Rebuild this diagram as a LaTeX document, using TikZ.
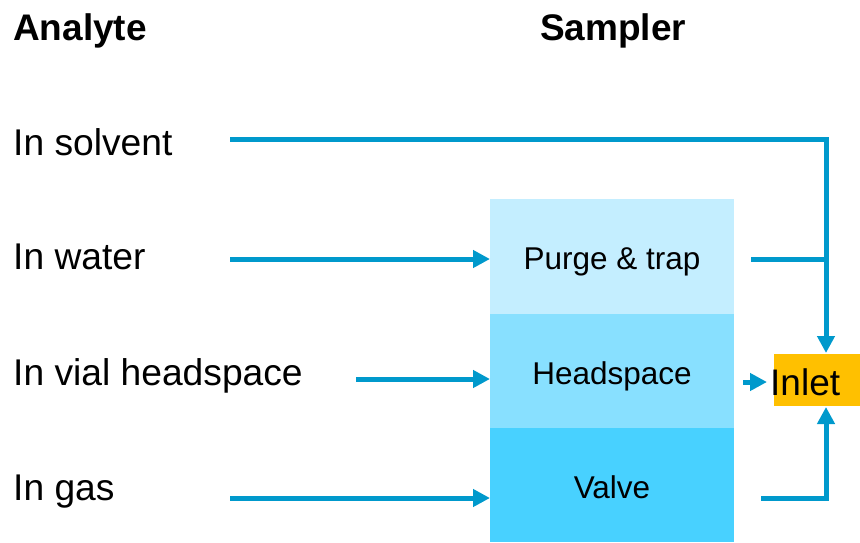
\documentclass[tikz,border=0pt]{standalone}
\usepackage{fontspec}
\setmainfont{Liberation Sans}
\usetikzlibrary{arrows.meta}
\definecolor{flowblue}{HTML}{0099CC}
\definecolor{boxA}{HTML}{C4EEFF}
\definecolor{boxB}{HTML}{88E0FF}
\definecolor{boxC}{HTML}{48D1FF}
\definecolor{inletfill}{HTML}{FFC000}
\tikzset{
  header/.style={anchor=base west, inner sep=0pt, font=\fontsize{37}{40}\selectfont\bfseries},
  label/.style={anchor=base west, inner sep=0pt, font=\fontsize{37.2}{40}\selectfont},
  stage/.style={minimum width=244pt, minimum height=115pt, inner sep=0pt, anchor=north west},
  stagetext/.style={anchor=base, inner sep=0pt, font=\fontsize{31.5}{34}\selectfont},
  flow/.style={draw=flowblue, line width=5pt, -{Triangle[length=17pt,width=17pt]}},
  plain/.style={draw=flowblue, line width=5pt},
}
\begin{document}
\begin{tikzpicture}[x=1pt,y=-1pt]
\useasboundingbox (0,0) rectangle (860,542);

% column headers
\node[header] (hanalyte) at (13,40) {Analyte};
\node[header] (hsampler) at (540,40) {Sampler};

% analyte sources
\node[label] (solvent) at (13,155) {In solvent};
\node[label] (water) at (13,269) {In water};
\node[label] (vial) at (13,385) {In vial headspace};
\node[label] (gas) at (13,500) {In gas};

% sampler stages
\node[stage, fill=boxA] (purge) at (490,199) {};
\node[stage, fill=boxB] (head) at (490,314) {};
\node[stage, fill=boxC, minimum height=114pt] (valve) at (490,428) {};
\node[stagetext] (tpurge) at (612,269) {Purge \& trap};
\node[stagetext] (thead) at (612,384) {Headspace};
\node[stagetext] (tvalve) at (612,498) {Valve};

% inlet
\node[fill=inletfill, minimum width=86pt, minimum height=52pt, inner sep=0pt, anchor=north west] (inlet) at (774,354) {};
\node[anchor=base west, inner sep=0pt, font=\fontsize{37}{40}\selectfont] (tinlet) at (770,395) {Inlet};

% connector end points
\coordinate (s1) at (230,139);
\coordinate (s2) at (230,259);
\coordinate (s3) at (356,379);
\coordinate (s4) at (230,498);
\coordinate (o1) at (751,259);
\coordinate (o2) at (743,382);
\coordinate (o3) at (761,498);
\coordinate (bus) at (826,0);
\coordinate (inTop) at (826,353);
\coordinate (inBot) at (826,407);
\coordinate (inLeft) at (767,382);

% flows into the sampler
\draw[flow] (s2) -- (s2 -| purge.west);
\draw[flow] (s3) -- (s3 -| head.west);
\draw[flow] (s4) -- (s4 -| valve.west);

% flows into the inlet
\draw[flow] (s1) -| (inTop);
\draw[plain] (o1) -- (o1 -| bus);
\draw[flow] (o2) -- (inLeft);
\draw[flow] (o3) -| (inBot);
\end{tikzpicture}
\end{document}
